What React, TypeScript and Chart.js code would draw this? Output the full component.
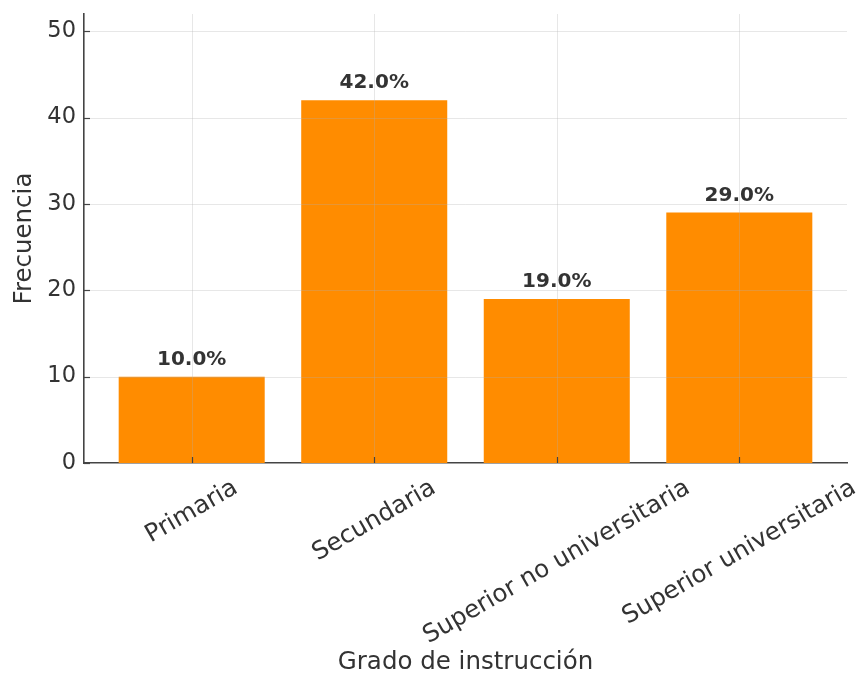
import React, { useEffect, useRef } from "react";
import { Chart, registerables } from "chart.js";

Chart.register(...registerables);

const categories = [
  "Primaria",
  "Secundaria",
  "Superior no universitaria",
  "Superior universitaria",
];
const frecuencias = [10, 42, 19, 29];
const yTicks = [0, 10, 20, 30, 40, 50];
const yMax = 52;
const xTitle = "Grado de instrucción";
const yTitle = "Frecuencia";

const FONT = "'DejaVu Sans', sans-serif";
const TEXT = "#333333";
const BAR = "#FF8C00";
const SPINE = "#444444";
const XLABEL_SIZE = 24.5;

const overlay = {
  id: "overlay",
  afterDatasetsDraw(chart: any) {
    const { ctx, chartArea: a, scales } = chart;
    const xs = scales.x;
    const ys = scales.y;
    const line = (x1: number, y1: number, x2: number, y2: number) => {
      ctx.beginPath();
      ctx.moveTo(x1, y1);
      ctx.lineTo(x2, y2);
      ctx.stroke();
    };
    ctx.save();
    // grid (drawn above bars like matplotlib)
    ctx.strokeStyle = "rgba(176,176,176,0.3)";
    ctx.lineWidth = 1;
    yTicks.forEach((v) => {
      if (v === 0) return;
      const py = Math.round(ys.getPixelForValue(v)) + 0.5;
      line(a.left, py, a.right, py);
    });
    categories.forEach((_, i) => {
      const px = Math.round(xs.getPixelForValue(i)) + 0.5;
      line(px, a.top, px, a.bottom);
    });
    // inward tick marks
    ctx.strokeStyle = SPINE;
    ctx.lineWidth = 1.2;
    yTicks.forEach((v) => {
      const py = Math.round(ys.getPixelForValue(v)) + 0.5;
      line(a.left, py, a.left + 6, py);
    });
    categories.forEach((_, i) => {
      const px = Math.round(xs.getPixelForValue(i)) + 0.5;
      line(px, a.bottom, px, a.bottom - 6);
    });
    // value labels
    const total = frecuencias.reduce((s, v) => s + v, 0);
    const meta = chart.getDatasetMeta(0);
    ctx.fillStyle = TEXT;
    ctx.font = `bold 20px ${FONT}`;
    ctx.textAlign = "center";
    ctx.textBaseline = "alphabetic";
    meta.data.forEach((bar: any, i: number) => {
      const pct = ((frecuencias[i] / total) * 100).toFixed(1) + "%";
      ctx.fillText(pct, bar.x, bar.y - 12);
    });
    // rotated category labels, centred like matplotlib
    ctx.font = `${XLABEL_SIZE}px ${FONT}`;
    const ang = Math.PI / 6;
    const h = XLABEL_SIZE * 1.164;
    categories.forEach((c, i) => {
      const w = ctx.measureText(c).width;
      const bboxH = w * Math.sin(ang) + h * Math.cos(ang);
      const cx = xs.getPixelForValue(i);
      const cy = a.bottom + 11 + bboxH / 2;
      ctx.save();
      ctx.translate(cx, cy);
      ctx.rotate(-ang);
      ctx.textAlign = "center";
      ctx.textBaseline = "middle";
      ctx.fillText(c, 0, 0);
      ctx.restore();
    });
    ctx.restore();
  },
};

export default function App() {
  const ref = useRef<HTMLCanvasElement | null>(null);
  useEffect(() => {
    if (!ref.current) return;
    const chart = new Chart(ref.current, {
      type: "bar",
      data: {
        datasets: [
          {
            data: frecuencias.map((v, i) => ({ x: i, y: v })),
            backgroundColor: BAR,
            borderWidth: 0,
            barPercentage: 0.8,
            categoryPercentage: 1,
          },
        ],
      },
      plugins: [overlay],
      options: {
        responsive: false,
        animation: false,
        layout: { padding: { left: 0, right: 14, top: 14, bottom: 0 } },
        plugins: { legend: { display: false }, tooltip: { enabled: false } },
        scales: {
          x: {
            type: "linear",
            offset: false,
            min: -0.59,
            max: 3.59,
            grid: { display: false, drawTicks: false },
            border: { display: true, color: SPINE, width: 1.6 },
            ticks: { display: false },
            afterBuildTicks: (s: any) => {
              s.ticks = categories.map((_, i) => ({ value: i }));
            },
            afterFit: (s: any) => {
              s.height = 218;
              s.paddingLeft = 0;
              s.paddingRight = 0;
            },
            title: {
              display: true,
              text: xTitle,
              color: TEXT,
              font: { family: FONT, size: 24.5 },
              padding: { top: 0, bottom: 4 },
            },
          },
          y: {
            min: 0,
            max: yMax,
            grid: { display: false, drawTicks: false },
            border: { display: true, color: SPINE, width: 1.6 },
            ticks: {
              color: TEXT,
              font: { family: FONT, size: 22.5 },
              padding: 8,
            },
            afterBuildTicks: (s: any) => {
              s.ticks = yTicks.map((v) => ({ value: v }));
            },
            afterFit: (s: any) => {
              s.width = 84;
              s.paddingTop = 0;
              s.paddingBottom = 0;
            },
            title: {
              display: true,
              text: yTitle,
              color: TEXT,
              font: { family: FONT, size: 24.5 },
              padding: { top: 10, bottom: 0 },
            },
          },
        },
      },
    } as any);
    return () => chart.destroy();
  }, []);
  return (
    <canvas
      ref={ref}
      width={861}
      height={681}
      style={{ position: "absolute", left: 0, top: 0, display: "block" }}
    />
  );
}
